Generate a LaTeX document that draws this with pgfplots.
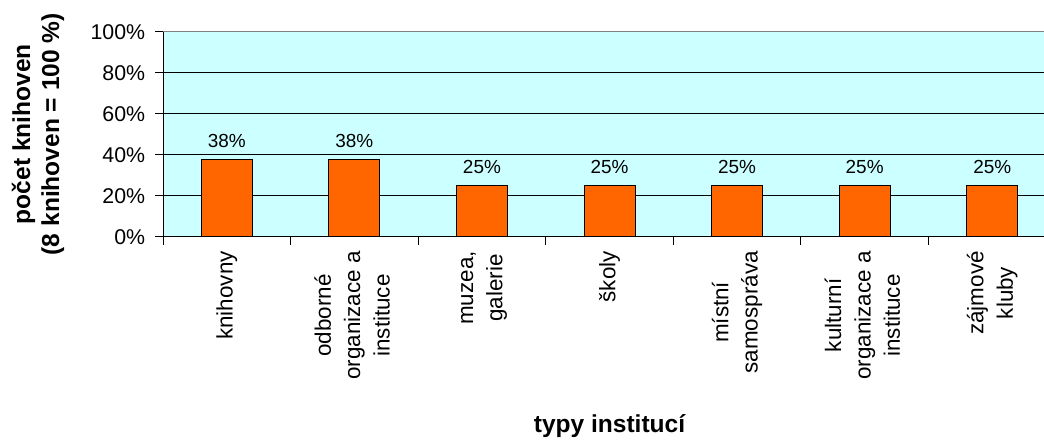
\documentclass[border=0pt]{standalone}
\usepackage{fontspec}
\setmainfont{Liberation Sans}
\usepackage{pgfplots}
\pgfplotsset{compat=1.18}
\definecolor{bgc}{HTML}{CCFFFF}
\definecolor{barc}{HTML}{FF6600}
\newcommand{\tl}[1]{\begin{tabular}{@{}c@{}}#1\end{tabular}}
\begin{document}
\begin{tikzpicture}
\begin{axis}[
  at={(122.25pt,151.725pt)}, anchor=south west,
  scale only axis, width=669.75pt, height=153.75pt,
  xmin=-0.5, xmax=6.5, ymin=0, ymax=100,
  axis background/.style={fill=bgc},
  axis x line*=bottom, axis y line*=left,
  axis line style={black, line width=0.75pt},
  ybar, bar width=38.25pt,
  xtick={0,...,6},
  xticklabels={\tl{knihovny},\tl{odborné\\organizace a\\instituce},\tl{muzea,\\galerie},\tl{školy},\tl{místní\\samospráva},\tl{kulturní\\organizace a\\instituce},\tl{zájmové\\kluby}},
  minor xtick={-0.5,0.5,...,6.5},
  major x tick style={draw=none},
  minor x tick style={black, line width=0.75pt},
  y tick style={black, line width=0.75pt},
  tick align=outside, major tick length=6pt, minor tick length=6pt,
  ytick={0,20,...,100},
  yticklabel={\pgfmathprintnumber{\tick}\%},
  /pgf/number format/assume math mode=true,
  ymajorgrids, grid style={black, line width=0.75pt},
  yticklabel style={font=\fontsize{16}{19}\selectfont, inner sep=0pt, anchor=east, xshift=-7.2pt},
  xticklabel style={font=\fontsize{16.8}{22}\selectfont, rotate=90, anchor=east, inner sep=0pt, xshift=-4.75pt},
  xlabel={typy institucí},
  xlabel style={at={([yshift=-147.2pt]rel axis cs:0.5,0)}, anchor=base, font=\bfseries\fontsize{18.4}{22}\selectfont},
  ylabel={počet knihoven\\(8 knihoven = 100 \%)},
  ylabel style={at={([xshift=-93.75pt]rel axis cs:0,0.5)}, anchor=center, align=center, font=\bfseries\fontsize{18.4}{21.75}\selectfont},
  nodes near coords, point meta=explicit symbolic,
  every node near coord/.append style={font=\fontsize{14.2}{17}\selectfont, anchor=south, inner sep=0pt, yshift=8.7pt},
]
\addplot[fill=barc, draw=black, line width=0.75pt] coordinates {
  (0,37.5) [38\%]
  (1,37.5) [38\%]
  (2,25) [25\%]
  (3,25) [25\%]
  (4,25) [25\%]
  (5,25) [25\%]
  (6,25) [25\%]
};
\draw[gray, line width=0.75pt] (rel axis cs:0,1) -- (rel axis cs:1,1);
\end{axis}
\pgfresetboundingbox
\path[use as bounding box] (0,0) rectangle (783pt,329.25pt);
\end{tikzpicture}
\end{document}
